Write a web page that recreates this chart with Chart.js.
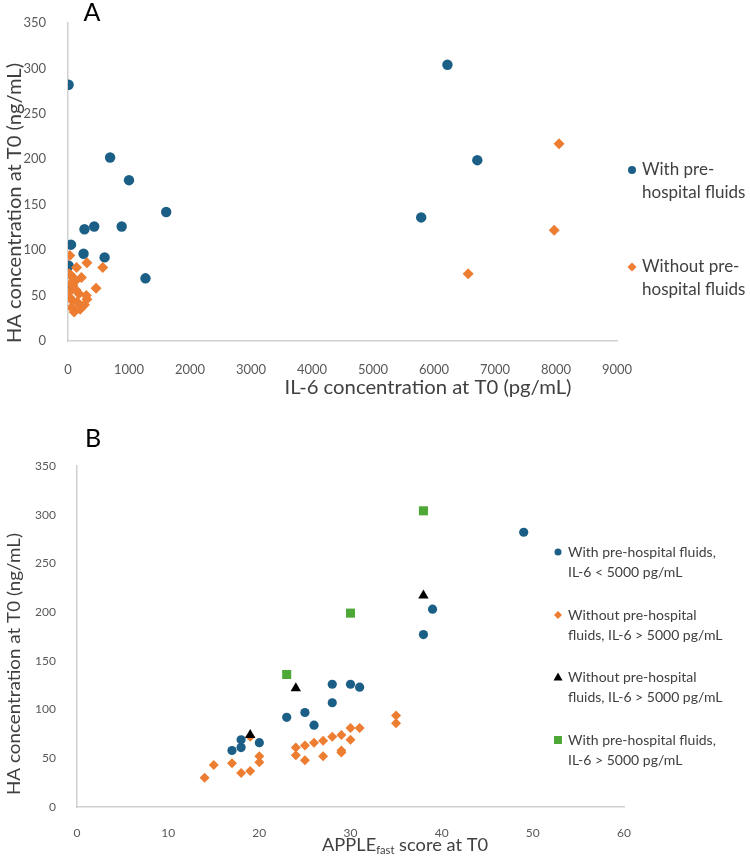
<!DOCTYPE html>
<html>
<head>
<meta charset="utf-8">
<script src="https://cdn.jsdelivr.net/npm/chart.js@4.4.1/dist/chart.umd.min.js"></script>
<style>
  html, body { margin: 0; padding: 0; background: #fff; }
  .panel { position: absolute; left: 0; width: 750px; }
  #panelA { top: 0; height: 420px; }
  #panelB { top: 420px; height: 442px; }
</style>
</head>
<body>
<div class="panel" id="panelA"><canvas id="chartA" width="750" height="420"></canvas></div>
<div class="panel" id="panelB"><canvas id="chartB" width="750" height="442"></canvas></div>
<script>
// ---- panel A: HA vs IL-6 ----
const A_WITH_IL6    = [10, 690, 1000, 1610, 270, 430, 880, 50, 255, 600, 10, 1270, 0, 6220, 6710, 5790];
const A_WITH_HA     = [282, 202, 177, 142, 123, 126, 126, 106, 96, 92, 83, 69, 60, 304, 199, 136];
const A_WITHOUT_IL6 = [30, 310, 140, 570, 220, 460, 300, 100, 60, 270, 310, 30, 180, 20, 50, 90, 120, 40, 80, 130, 10, 60, 150, 200, 6560, 8050, 7970];
const A_WITHOUT_HA  = [94, 86, 81, 81, 70, 58, 50, 32, 37, 40, 46, 48, 52, 74, 72, 69, 66, 63, 61, 56, 53, 45, 43, 35, 74, 217, 122];

// ---- panel B: HA vs APPLE-fast ----
const B_WITH_LO_APPLE    = [49, 39, 38, 28, 30, 31, 28, 25, 23, 26, 18, 17, 18, 20];
const B_WITH_LO_HA       = [282, 203, 177, 126, 126, 123, 107, 97, 92, 84, 69, 58, 61, 66];
const B_WITHOUT_LO_APPLE = [14, 15, 17, 18, 19, 20, 20, 24, 24, 25, 25, 26, 27, 27, 28, 29, 29, 29, 30, 30, 31, 35, 35, 19];
const B_WITHOUT_LO_HA    = [30, 43, 45, 35, 37, 46, 52, 61, 53, 63, 48, 66, 68, 52, 72, 74, 58, 56, 81, 69, 81, 94, 86, 72];
const B_WITHOUT_HI_APPLE = [19, 24, 38];
const B_WITHOUT_HI_HA    = [74, 122, 217];
const B_WITH_HI_APPLE    = [23, 30, 38];
const B_WITH_HI_HA       = [136, 199, 304];

const BLUE   = "#1b5f87";
const ORANGE = "#ed7d31";
const BLACK  = "#000000";
const GREEN  = "#4da838";
const FONT   = "Lato, 'Open Sans', sans-serif";
const TICK_COLOR = "#595959";
const TEXT_COLOR = "#404040";
const AXIS_COLOR = "#d0d0d0";

const pts = (xs, ys) => xs.map((x, i) => ({ x, y: ys[i] }));

function drawMarker(ctx, style, x, y, r, color) {
  ctx.fillStyle = color;
  ctx.beginPath();
  if (style === "circle") {
    ctx.arc(x, y, r, 0, Math.PI * 2);
  } else if (style === "rectRot") {
    ctx.moveTo(x, y - r); ctx.lineTo(x + r, y); ctx.lineTo(x, y + r); ctx.lineTo(x - r, y);
  } else if (style === "triangle") {
    ctx.moveTo(x, y - r); ctx.lineTo(x + r, y + r * 0.8); ctx.lineTo(x - r, y + r * 0.8);
  } else {
    ctx.rect(x - r, y - r, 2 * r, 2 * r);
  }
  ctx.closePath();
  ctx.fill();
}

// titles, rotated axis title and the legend are drawn on the canvas
const panelText = {
  id: "panelText",
  afterDraw(chart, args, opts) {
    const ctx = chart.ctx;
    ctx.save();
    ctx.textBaseline = "middle";
    (opts.texts || []).forEach(t => {
      ctx.save();
      const font = `${t.size}px ${FONT}`;
      const subFont = `${Math.round(t.size * 0.62)}px ${FONT}`;
      ctx.fillStyle = t.color || TEXT_COLOR;
      ctx.translate(t.x, t.y);
      if (t.rotate) ctx.rotate(t.rotate);
      ctx.font = font;
      const w1 = ctx.measureText(t.text).width;
      const w3 = t.rest ? ctx.measureText(t.rest).width : 0;
      ctx.font = subFont;
      const w2 = t.sub ? ctx.measureText(t.sub).width : 0;
      const total = w1 + w2 + w3;
      // squeeze or stretch along the text direction to the width seen
      if (t.fit) ctx.scale(t.fit / total, 1);
      const x0 = -total / 2;
      ctx.textAlign = "left";
      ctx.font = font;
      ctx.fillText(t.text, x0, 0);
      if (t.sub) {
        ctx.font = subFont;
        ctx.fillText(t.sub, x0 + w1, t.size * 0.32);
        ctx.font = font;
        ctx.fillText(t.rest, x0 + w1 + w2, 0);
      }
      ctx.restore();
    });
    const lg = opts.legend;
    if (lg) {
      ctx.font = `${lg.size}px ${FONT}`;
      ctx.textAlign = "left";
      lg.items.forEach(it => {
        drawMarker(ctx, it.style, lg.markerX, it.y, it.r, it.color);
        ctx.fillStyle = TEXT_COLOR;
        it.lines.forEach((line, k) => ctx.fillText(line, lg.textX, it.y + k * lg.lineH));
      });
    }
    ctx.restore();
  }
};

function makeOptions(c) {
  const tickFont = { family: FONT, size: c.tickSize };
  return {
    responsive: false,
    animation: false,
    layout: { padding: c.padding },
    plugins: {
      legend: { display: false },
      tooltip: { enabled: false },
      panelText: c.text,
    },
    scales: {
      x: {
        type: "linear", min: 0, max: c.xMax,
        grid: { display: false },
        border: { display: true, color: AXIS_COLOR, width: 1.5 },
        ticks: { stepSize: c.xStep, color: TICK_COLOR, font: tickFont, padding: c.xPad, maxRotation: 0, callback: v => String(v) },
        afterFit(s) { s.height = c.xH; },
      },
      y: {
        type: "linear", min: 0, max: 350,
        grid: { display: false },
        border: { display: true, color: AXIS_COLOR, width: 1.5 },
        ticks: { stepSize: 50, color: TICK_COLOR, font: tickFont, padding: c.yPad, callback: v => String(v) },
        afterFit(s) { s.width = c.yW; },
      },
    },
  };
}

function series(data, color, style, r, order) {
  return {
    data, pointStyle: style, pointRadius: r, pointHoverRadius: r,
    backgroundColor: color, borderColor: color, pointBorderWidth: 0,
    showLine: false, order,
  };
}

new Chart(document.getElementById("chartA"), {
  type: "scatter",
  data: {
    datasets: [
      series(pts(A_WITH_IL6, A_WITH_HA), BLUE, "circle", 5.2, 2),
      series(pts(A_WITHOUT_IL6, A_WITHOUT_HA), ORANGE, "rectRot", 5.5, 1),
    ],
  },
  options: makeOptions({
    padding: { left: 0, right: 133, top: 23, bottom: 39 },
    xMax: 9000, xStep: 1000, xH: 40, yW: 68, tickSize: 13, xPad: 13, yPad: 14,
    text: {
      texts: [
        { text: "A", x: 92, y: 13, size: 25, color: "#000" },
        { text: "HA concentration at T0 (ng/mL)", x: 15, y: 203, size: 20, fit: 280, rotate: -Math.PI / 2 },
        { text: "IL-6 concentration at T0 (pg/mL)", x: 428, y: 388, size: 20, fit: 287 },
      ],
      legend: {
        size: 17, markerX: 632, textX: 642, lineH: 23,
        items: [
          { style: "circle", color: BLUE, r: 4, y: 170, lines: ["With pre-", "hospital fluids"] },
          { style: "rectRot", color: ORANGE, r: 4.5, y: 267, lines: ["Without pre-", "hospital fluids"] },
        ],
      },
    },
  }),
  plugins: [panelText],
});

new Chart(document.getElementById("chartB"), {
  type: "scatter",
  data: {
    datasets: [
      series(pts(B_WITH_LO_APPLE, B_WITH_LO_HA), BLUE, "circle", 4.6, 3),
      series(pts(B_WITHOUT_LO_APPLE, B_WITHOUT_LO_HA), ORANGE, "rectRot", 5, 4),
      series(pts(B_WITHOUT_HI_APPLE, B_WITHOUT_HI_HA), BLACK, "triangle", 6, 1),
      series(pts(B_WITH_HI_APPLE, B_WITH_HI_HA), GREEN, "rect", 6.4, 0),
    ],
  },
  options: makeOptions({
    padding: { left: 0, right: 126, top: 46, bottom: 15 },
    xMax: 60, xStep: 10, xH: 40, yW: 77, tickSize: 12, xPad: 11, yPad: 13,
    text: {
      texts: [
        { text: "B", x: 93, y: 19, size: 25, color: "#000" },
        { text: "HA concentration at T0 (ng/mL)", x: 15, y: 244, size: 17, fit: 262, rotate: -Math.PI / 2 },
        { text: "APPLE", sub: "fast", rest: " score at T0", x: 405, y: 425, size: 18, fit: 166 },
      ],
      legend: {
        size: 14, markerX: 558, textX: 568, lineH: 20,
        items: [
          { style: "circle", color: BLUE, r: 3.5, y: 132, lines: ["With pre-hospital fluids,", "IL-6 < 5000 pg/mL"] },
          { style: "rectRot", color: ORANGE, r: 4, y: 195, lines: ["Without pre-hospital", "fluids, IL-6 > 5000 pg/mL"] },
          { style: "triangle", color: BLACK, r: 4.5, y: 257, lines: ["Without pre-hospital", "fluids, IL-6 > 5000 pg/mL"] },
          { style: "square", color: GREEN, r: 4, y: 320, lines: ["With pre-hospital fluids,", "IL-6 > 5000 pg/mL"] },
        ],
      },
    },
  }),
  plugins: [panelText],
});
</script>
</body>
</html>
